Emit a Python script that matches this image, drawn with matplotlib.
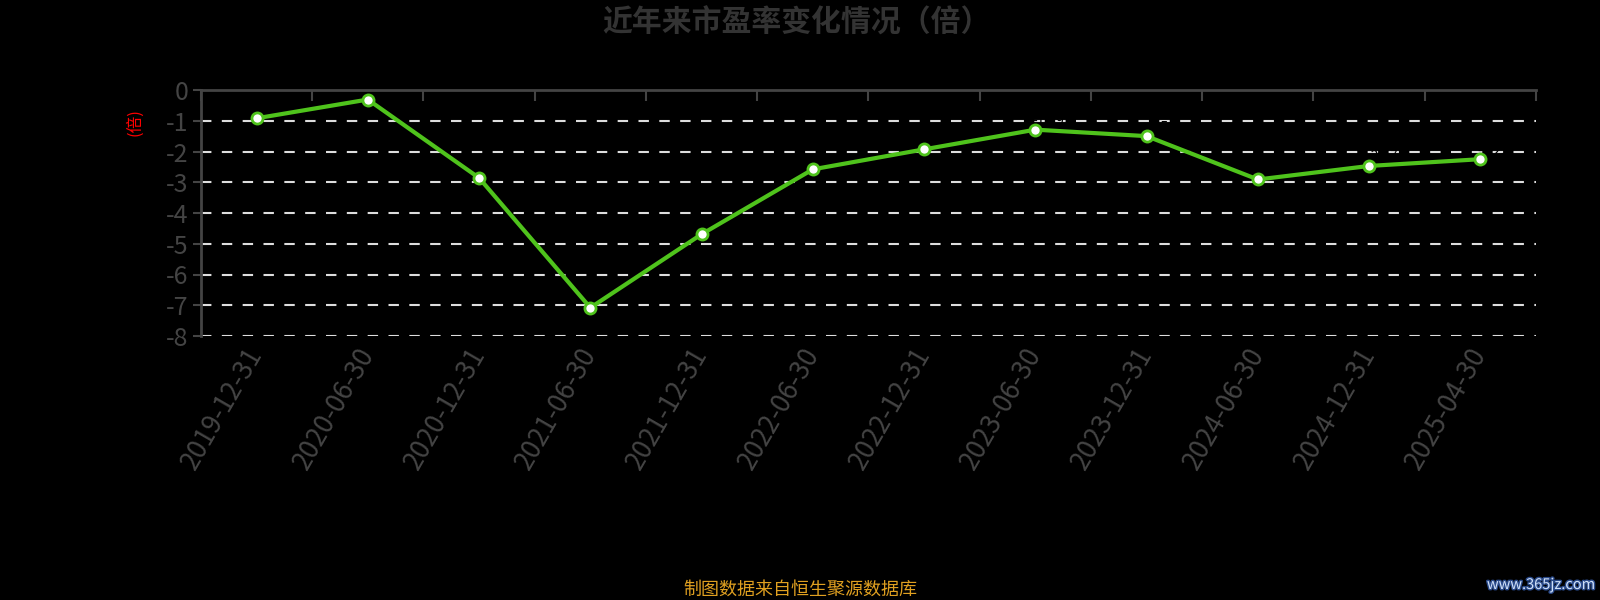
import matplotlib
matplotlib.use("Agg")
import matplotlib.pyplot as plt
import matplotlib.patheffects as pe

plt.rcParams['font.family'] = ['Noto Sans CJK SC', 'DejaVu Sans']

dates = ["2019-12-31", "2020-06-30", "2020-12-31", "2021-06-30", "2021-12-31", "2022-06-30",
         "2022-12-31", "2023-06-30", "2023-12-31", "2024-06-30", "2024-12-31", "2025-04-30"]
pe_values = [-0.92, -0.31, -2.86, -7.08, -4.69, -2.58, -1.93, -1.29, -1.50, -2.91, -2.47, -2.25]
y_ticks = [0, -1, -2, -3, -4, -5, -6, -7, -8]

fig = plt.figure(figsize=(16, 6), dpi=100, facecolor='black')
ax = fig.add_axes([0.1256, 0.44, 0.8344, 0.41])
ax.set_facecolor('black')

x = list(range(len(dates)))
ax.set_xlim(-0.5, len(dates) - 0.5)
ax.set_ylim(-8, 0)

for v in y_ticks[1:]:
    ax.axhline(v, color='#dddddd', lw=1.5, ls=(0, (5, 5)), zorder=1)

ax.plot(x, pe_values, color='#4fc31c', lw=3, marker='o', markersize=8,
        markerfacecolor='white', markeredgecolor='#4fc31c', markeredgewidth=2, zorder=3)
for xi, v in zip(x, pe_values):
    ax.text(xi + 0.12, v + 0.05, f"{v:.2f}", color='black', fontsize=10,
            ha='center', va='bottom', zorder=2)

# top axis line at 0 with category boundary ticks
ax.spines['top'].set_color('#444444')
ax.spines['top'].set_linewidth(2)
ax.spines['left'].set_color('#444444')
ax.spines['left'].set_linewidth(2)
ax.spines['right'].set_visible(False)
ax.spines['bottom'].set_visible(False)

ax.set_yticks(y_ticks)
ax.set_yticklabels([str(v) for v in y_ticks])
ax.tick_params(axis='y', colors='#444444', labelsize=18, length=6, width=1.5, pad=3)
for lab in ax.get_yticklabels():
    lab.set_color('#444444')

ax.set_xticks([i - 0.5 for i in range(len(dates) + 1)], minor=True)
ax.tick_params(axis='x', which='minor', top=True, bottom=False, direction='in',
               length=8, width=1.5, color='#444444')
ax.set_xticks(x)
ax.set_xticklabels(dates, rotation=60, ha='right', va='center', rotation_mode='anchor')
ax.tick_params(axis='x', which='major', length=0, labelsize=19, labelcolor='#444444', pad=10)

ax.set_ylabel('(倍)', color='red', fontsize=12)
ax.yaxis.set_label_coords(-0.043, 0.87)

fig.text(0.4975, 0.962, '近年来市盈率变化情况（倍）', color='#333333', fontsize=21.5,
         fontweight='bold', ha='center', va='center')
fig.text(0.5, 0.018, '制图数据来自恒生聚源数据库', color='#e0a020', fontsize=13,
         ha='center', va='center')
fig.text(0.997, 0.025, 'www.365jz.com', color='#d0e0f8', fontsize=10.5,
         ha='right', va='center',
         path_effects=[pe.withStroke(linewidth=2, foreground='#2a4a8a')])

fig.savefig('out.png', dpi=100, facecolor='black')
